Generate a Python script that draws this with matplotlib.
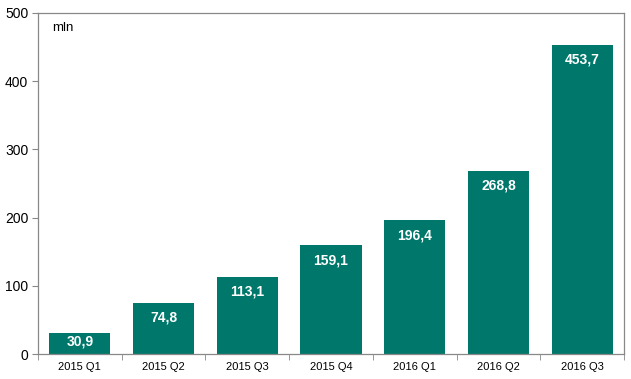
import matplotlib
matplotlib.use("Agg")
import matplotlib.pyplot as plt
import numpy as np

categories = ["2015 Q1", "2015 Q2", "2015 Q3", "2015 Q4", "2016 Q1", "2016 Q2", "2016 Q3"]
values = [30.9, 74.8, 113.1, 159.1, 196.4, 268.8, 453.7]
value_labels = ["30,9", "74,8", "113,1", "159,1", "196,4", "268,8", "453,7"]
yticks = [0, 100, 200, 300, 400, 500]

plt.rcParams['font.family'] = ['Liberation Sans', 'DejaVu Sans']

fig = plt.figure(figsize=(6.31, 3.79), dpi=100)
ax = fig.add_axes([38/631, 25/379, 586/631, 341/379])

x = np.arange(len(categories))
bars = ax.bar(x, values, width=0.73, color="#00776B", zorder=2)

ax.set_xlim(-0.5, len(categories) - 0.5)
ax.set_ylim(0, 500)

# label offset from bar top: ~15 px, but kept inside short bars
px_per_unit = 341 / 500
for xi, v, lab in zip(x, values, value_labels):
    off_px = min(15, v * px_per_unit / 2 - 1.5)
    ax.annotate(lab, xy=(xi, v), xytext=(0, -off_px * 0.72), textcoords="offset points",
                ha="center", va="center", color="white", fontsize=10, fontweight="bold")

ax.set_yticks(yticks)
ax.set_yticklabels([str(t) for t in yticks], fontsize=10)
ax.set_xticks(x)
ax.set_xticklabels(categories, fontsize=8)
ax.set_xticks(np.arange(-0.5, len(categories)), minor=True)
ax.tick_params(axis="x", which="major", length=0, pad=6)
ax.tick_params(axis="x", which="minor", length=4, color="#888888", direction="out")
ax.tick_params(axis="y", length=4, color="#888888", direction="out", pad=3)

for s in ax.spines.values():
    s.set_color("#888888")
    s.set_linewidth(0.9)

ax.text(0.024, 0.955, "mln", transform=ax.transAxes, fontsize=9.5, ha="left", va="center")

fig.savefig("out.png", dpi=100)
